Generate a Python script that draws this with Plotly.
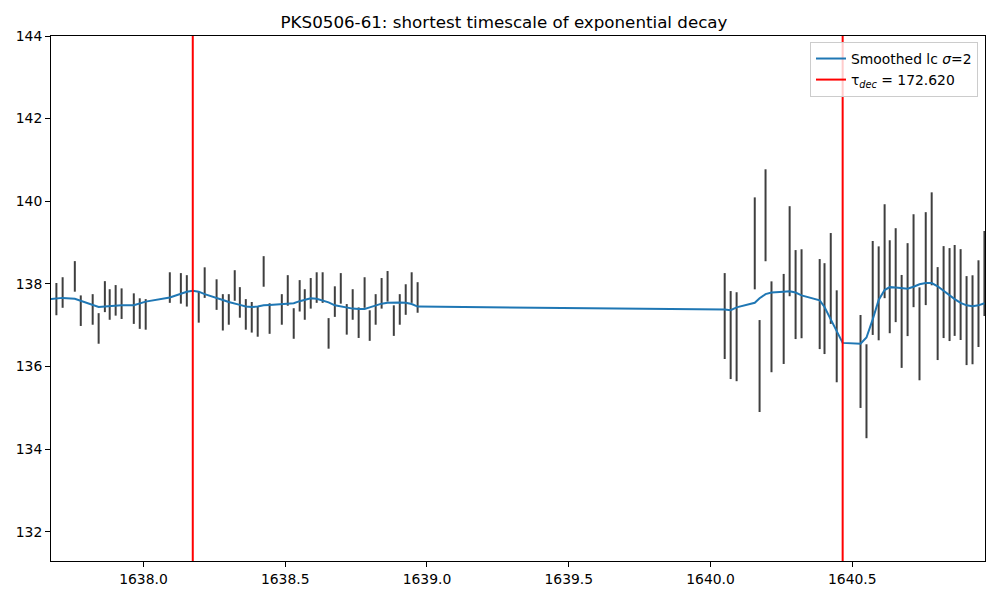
import plotly.graph_objects as go

# ---- observed light curve (left and right observing blocks) ----
t_left = [1637.693, 1637.715, 1637.758, 1637.779, 1637.821, 1637.842, 1637.864, 1637.881,
          1637.902, 1637.923, 1637.966, 1637.987, 1638.008, 1638.093, 1638.132, 1638.153,
          1638.195, 1638.216, 1638.258, 1638.280, 1638.301, 1638.322, 1638.340, 1638.361,
          1638.382, 1638.403, 1638.424, 1638.445, 1638.488, 1638.509, 1638.530, 1638.551,
          1638.569, 1638.590, 1638.611, 1638.632, 1638.653, 1638.675, 1638.696, 1638.717,
          1638.738, 1638.759, 1638.780, 1638.798, 1638.819, 1638.840, 1638.861, 1638.883,
          1638.904, 1638.925, 1638.946, 1638.967]
flux_left = [137.63, 137.79, 138.18, 137.35, 137.38, 136.92, 137.69, 137.50, 137.60, 137.52,
             137.40, 137.28, 137.26, 137.91, 137.89, 137.83, 137.44, 138.03, 137.74, 137.31,
             137.38, 137.96, 137.55, 137.26, 137.19, 137.08, 138.30, 137.16, 137.38, 137.84,
             137.04, 137.71, 137.50, 137.77, 137.91, 137.91, 136.80, 137.57, 137.89, 137.14,
             137.50, 137.06, 137.79, 136.99, 137.38, 137.77, 137.94, 137.11, 137.38, 137.62,
             137.91, 137.67]
err_left = [0.39, 0.37, 0.37, 0.37, 0.37, 0.37, 0.375, 0.37, 0.37, 0.37,
            0.37, 0.37, 0.37, 0.37, 0.37, 0.38, 0.38, 0.37, 0.37, 0.44,
            0.37, 0.37, 0.37, 0.37, 0.37, 0.36, 0.37, 0.37, 0.37, 0.37,
            0.37, 0.38, 0.37, 0.37, 0.37, 0.37, 0.37, 0.37, 0.37, 0.37,
            0.37, 0.37, 0.37, 0.37, 0.37, 0.37, 0.37, 0.37, 0.37, 0.37,
            0.37, 0.37]

t_right = [1640.050, 1640.071, 1640.092, 1640.156, 1640.173, 1640.194, 1640.215, 1640.258,
           1640.279, 1640.300, 1640.321, 1640.385, 1640.402, 1640.424, 1640.445, 1640.529,
           1640.550, 1640.572, 1640.593, 1640.614, 1640.632, 1640.653, 1640.674, 1640.695,
           1640.716, 1640.737, 1640.759, 1640.780, 1640.801, 1640.822, 1640.843, 1640.861,
           1640.882, 1640.903, 1640.924, 1640.945, 1640.966]
flux_right = [137.22, 136.76, 136.72, 138.98, 136.01, 139.66, 136.96, 137.15, 138.79, 137.74,
              137.76, 137.51, 137.40, 138.13, 136.73, 136.12, 135.40, 137.90, 137.77, 138.79,
              137.93, 138.21, 137.09, 137.86, 138.56, 136.79, 138.61, 139.09, 137.28, 137.80,
              137.74, 137.84, 137.74, 137.11, 137.13, 137.52, 138.25]
err_right = [1.04, 1.065, 1.077, 1.113, 1.113, 1.113, 1.10, 1.09, 1.09, 1.077,
             1.077, 1.09, 1.10, 1.10, 1.113, 1.125, 1.137, 1.137, 1.137, 1.137,
             1.125, 1.137, 1.125, 1.125, 1.125, 1.125, 1.125, 1.125, 1.125, 1.113,
             1.125, 1.10, 1.10, 1.077, 1.077, 1.05, 1.03]

# points whose error bars are hidden (behind red lines / outside the axes)
t_before = 1637.672
t_peak = 1638.174
t_trough = 1640.466

# ---- smoothed light curve (sigma = 2) ----
smooth_left = [137.63,
               137.65, 137.66, 137.64, 137.59, 137.48, 137.44, 137.45, 137.46, 137.48, 137.48,
               137.48, 137.53, 137.57, 137.67, 137.76, 137.81,
               137.83,
               137.81, 137.75,
               137.67, 137.61, 137.56, 137.53, 137.49, 137.45, 137.44, 137.45, 137.48, 137.49,
               137.51, 137.51, 137.53, 137.58, 137.62, 137.65, 137.64, 137.60, 137.55, 137.48,
               137.45, 137.43, 137.40, 137.39, 137.39, 137.43, 137.48, 137.52, 137.54, 137.55,
               137.55, 137.54, 137.51, 137.45]
smooth_right = [137.38, 137.36, 137.43, 137.54, 137.65, 137.75, 137.79, 137.81, 137.82, 137.79,
                137.72, 137.60, 137.44, 137.14, 136.84,
                136.57,
                136.55, 136.70, 137.14, 137.61, 137.85, 137.92, 137.91, 137.89, 137.88, 137.93,
                137.99, 138.02, 138.02, 137.94, 137.83, 137.73, 137.63, 137.54, 137.48, 137.46,
                137.48, 137.53]

# decay timescale markers
tau_lines = [t_peak, t_trough]
tau_label = "172.620"

x_ticks = [1638.0, 1638.5, 1639.0, 1639.5, 1640.0, 1640.5]
y_ticks = [132, 134, 136, 138, 140, 142, 144]
x_range = [1637.674, 1640.968]
y_range = [131.29, 144.0]

t_obs = t_left + t_right
flux_obs = flux_left + flux_right
err_obs = err_left + err_right
t_smooth = [t_before] + t_left[:16] + [t_peak] + t_left[16:] + t_right[:15] + [t_trough] + t_right[15:]
smooth = smooth_left + smooth_right

fig = go.Figure()
fig.add_trace(go.Scatter(
    x=t_obs, y=flux_obs, mode="markers",
    marker=dict(size=1, color="rgba(0,0,0,0)"),
    error_y=dict(type="data", array=err_obs, visible=True, color="#3f3f3f",
                 thickness=2, width=0),
    showlegend=False, hoverinfo="skip"))
fig.add_trace(go.Scatter(
    x=t_smooth, y=smooth, mode="lines",
    line=dict(color="#1f77b4", width=2),
    name="Smoothed lc <i>σ</i>=2"))
fig.add_trace(go.Scatter(
    x=[None], y=[None], mode="lines",
    line=dict(color="red", width=2),
    name="τ<sub><i>dec</i></sub> = " + tau_label))

for xv in tau_lines:
    fig.add_shape(type="line", xref="x", yref="y domain", x0=xv, x1=xv, y0=0, y1=1,
                  line=dict(color="red", width=2), layer="above")

axis_common = dict(showline=True, mirror=True, linecolor="black", linewidth=1,
                   ticks="outside", ticklen=5, tickcolor="black", tickwidth=1,
                   showgrid=False, zeroline=False, automargin=False,
                   tickfont=dict(family="DejaVu Sans", size=13.9, color="black"))

fig.update_layout(
    width=992, height=592,
    paper_bgcolor="white", plot_bgcolor="white",
    margin=dict(l=43, r=15, t=28, b=39),
    title=dict(text="PKS0506-61: shortest timescale of exponential decay",
               x=0.5, xanchor="center", y=0.976, yanchor="middle",
               font=dict(family="DejaVu Sans", size=16.7, color="black"),
               automargin=False),
    font=dict(family="DejaVu Sans", color="black"),
    legend=dict(x=0.9925, y=0.9886, xanchor="right", yanchor="top",
                bgcolor="rgba(255,255,255,0.8)", bordercolor="#cccccc", borderwidth=1,
                font=dict(family="DejaVu Sans", size=13.9, color="black"),
                itemwidth=30, tracegroupgap=0),
    showlegend=True,
)
fig.update_xaxes(range=x_range, tickvals=x_ticks,
                 ticktext=[f"{v:.1f}" for v in x_ticks], **axis_common)
fig.update_yaxes(range=y_range, tickvals=y_ticks,
                 ticktext=[str(v) for v in y_ticks], **axis_common)

fig.write_html("out.html")
